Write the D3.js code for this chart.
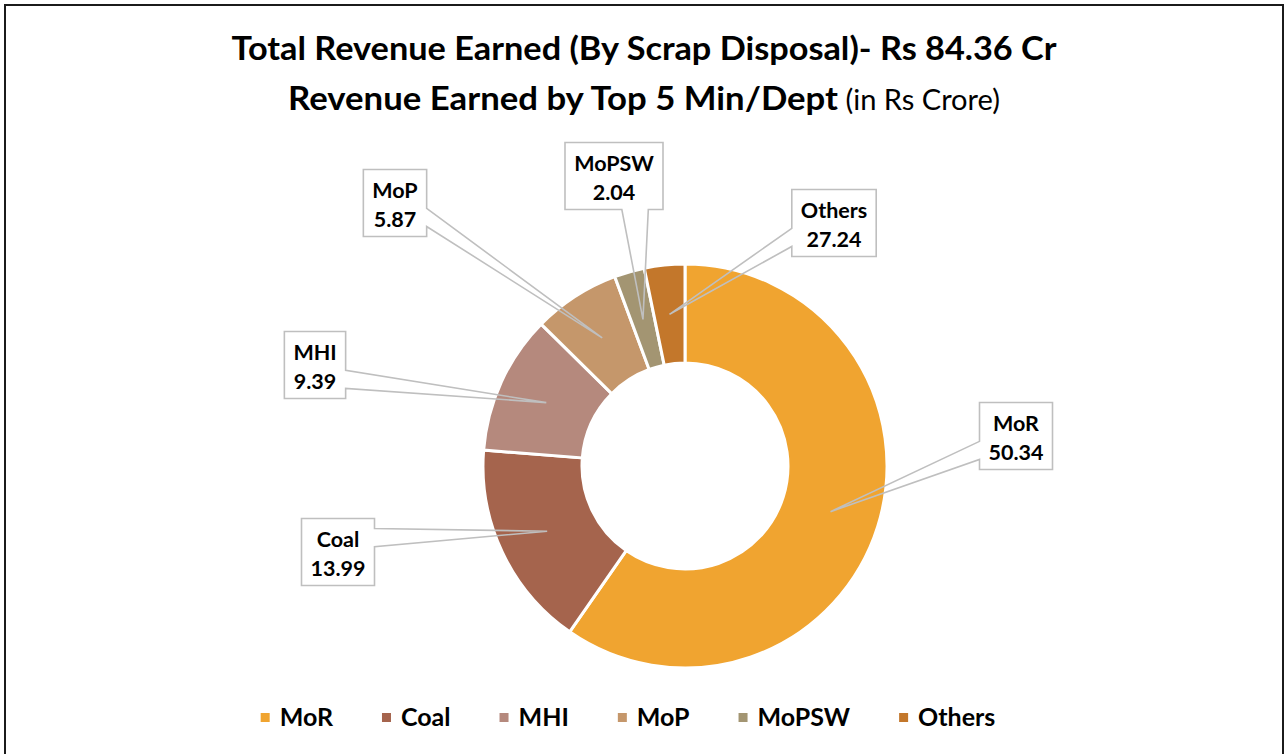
<!DOCTYPE html>
<html>
<head>
<meta charset="utf-8">
<script src="https://cdn.jsdelivr.net/npm/d3@7"></script>
<style>
  body { margin: 0; background: #fff; }
  text { font-family: Lato, "Open Sans", sans-serif; }
</style>
</head>
<body>
<div id="chart"></div>
<script>
// revenue by ministry / department (Rs crore)
var categories = ["MoR", "Coal", "MHI", "MoP", "MoPSW", "Others"];
// slice sizes as drawn in the picture
var sliceValues = [50.34, 13.99, 9.39, 5.87, 2.04, 2.73];
// the numbers printed in the callouts
var labelValues = ["50.34", "13.99", "9.39", "5.87", "2.04", "27.24"];
var colors = ["#F0A430", "#A5644D", "#B5897D", "#C5976B", "#A39572", "#C3772B"];

var title1 = "Total Revenue Earned (By Scrap Disposal)- Rs 84.36 Cr";
var title2a = "Revenue Earned by Top 5 Min/Dept";
var title2b = " (in Rs Crore)";

var svgWidth = 1285, svgHeight = 754;
var cx = 685, cy = 466;
var outerR = 202, innerR = 103;

// callout box centres, relative to donut centre
var calloutOffset = {
  MoR: [331, -30],
  Coal: [-347, 86],
  MHI: [-370, -101],
  MoP: [-290, -263],
  MoPSW: [-71, -290],
  Others: [149, -243]
};

var svg = d3.select("#chart").append("svg")
  .attr("width", svgWidth)
  .attr("height", svgHeight);

// outer frame
svg.append("rect")
  .attr("x", 5).attr("y", 5)
  .attr("width", 1278).attr("height", 770)
  .attr("fill", "none")
  .attr("stroke", "#1b1b1b")
  .attr("stroke-width", 2);

// titles (stretched to the widths of the original)
svg.append("text")
  .attr("x", 644).attr("y", 60)
  .attr("text-anchor", "middle")
  .attr("font-size", 33)
  .attr("font-weight", "bold")
  .attr("fill", "#000")
  .attr("textLength", 825)
  .attr("lengthAdjust", "spacingAndGlyphs")
  .text(title1);

var t2 = svg.append("text")
  .attr("x", 288).attr("y", 110)
  .attr("fill", "#000");
t2.append("tspan").attr("font-size", 33).attr("font-weight", "bold")
  .attr("textLength", 550).attr("lengthAdjust", "spacingAndGlyphs")
  .text(title2a);
t2.append("tspan").attr("font-size", 28).attr("font-weight", "normal")
  .attr("textLength", 162).attr("lengthAdjust", "spacingAndGlyphs")
  .text(title2b);

// donut
var data = categories.map(function(c, i) {
  return { name: c, value: sliceValues[i], label: labelValues[i], color: colors[i] };
});

var pie = d3.pie().value(d => d.value).sort(null);
var arc = d3.arc().innerRadius(innerR).outerRadius(outerR);
var midArc = d3.arc().innerRadius((innerR + outerR) / 2).outerRadius((innerR + outerR) / 2);

var g = svg.append("g").attr("transform", `translate(${cx},${cy})`);
var arcs = pie(data);

g.selectAll("path.slice")
  .data(arcs)
  .enter()
  .append("path")
  .attr("class", "slice")
  .attr("d", arc)
  .attr("fill", d => d.data.color)
  .attr("stroke", "#fff")
  .attr("stroke-width", 3);

// callouts
var boxH = 67, pad = 9;
arcs.forEach(function(a) {
  var d = a.data;
  var off = calloutOffset[d.name];
  var tip = midArc.centroid(a);

  var lg = g.append("g");
  var t = lg.append("text")
    .attr("text-anchor", "middle")
    .attr("font-size", 21.5)
    .attr("font-weight", "bold")
    .attr("fill", "#000");
  t.append("tspan").attr("x", off[0]).attr("y", off[1] - boxH / 2 + 28).text(d.name);
  t.append("tspan").attr("x", off[0]).attr("y", off[1] - boxH / 2 + 57).text(d.label);
  var w = t.node().getBBox().width + pad * 2;

  var x0 = off[0] - w / 2, x1 = off[0] + w / 2;
  var y0 = off[1] - boxH / 2, y1 = off[1] + boxH / 2;

  // which edge the pointer leaves from
  var side;
  if (tip[0] >= x0 && tip[0] <= x1) side = tip[1] > y1 ? "bottom" : "top";
  else side = tip[0] > x1 ? "right" : "left";

  var f;
  if (side === "left" || side === "right") f = (tip[1] - y0) / boxH;
  else f = (tip[0] - x0) / w;
  var fa = f < 0.5 ? 0.15 : 0.58, fb = f < 0.5 ? 0.42 : 0.85;

  var p = d3.path();
  p.moveTo(x0, y0);
  if (side === "top") {
    p.lineTo(x0 + w * fa, y0); p.lineTo(tip[0], tip[1]); p.lineTo(x0 + w * fb, y0);
  }
  p.lineTo(x1, y0);
  if (side === "right") {
    p.lineTo(x1, y0 + boxH * fa); p.lineTo(tip[0], tip[1]); p.lineTo(x1, y0 + boxH * fb);
  }
  p.lineTo(x1, y1);
  if (side === "bottom") {
    p.lineTo(x0 + w * fb, y1); p.lineTo(tip[0], tip[1]); p.lineTo(x0 + w * fa, y1);
  }
  p.lineTo(x0, y1);
  if (side === "left") {
    p.lineTo(x0, y0 + boxH * fb); p.lineTo(tip[0], tip[1]); p.lineTo(x0, y0 + boxH * fa);
  }
  p.closePath();

  lg.insert("rect", "text")
    .attr("x", x0).attr("y", y0)
    .attr("width", w).attr("height", boxH)
    .attr("fill", "#fff");
  lg.insert("path", "text")
    .attr("d", p.toString())
    .attr("fill", "none")
    .attr("stroke", "#BFBFBF")
    .attr("stroke-width", 1.6);
});

// legend
var legend = svg.append("g");
var lx = 0, gap = 49;
data.forEach(function(d) {
  var it = legend.append("g");
  it.append("rect")
    .attr("x", 0).attr("y", -13)
    .attr("width", 9).attr("height", 9)
    .attr("fill", d.color);
  var tx = it.append("text")
    .attr("x", 19).attr("y", 0)
    .attr("font-size", 25)
    .attr("font-weight", "bold")
    .attr("fill", "#000")
    .text(d.name);
  var tw = tx.node().getComputedTextLength();
  it.attr("transform", `translate(${lx},0)`);
  lx += 19 + tw + gap;
});
var legendW = lx - gap;
legend.attr("transform", `translate(${628 - legendW / 2},726)`);
</script>
</body>
</html>
